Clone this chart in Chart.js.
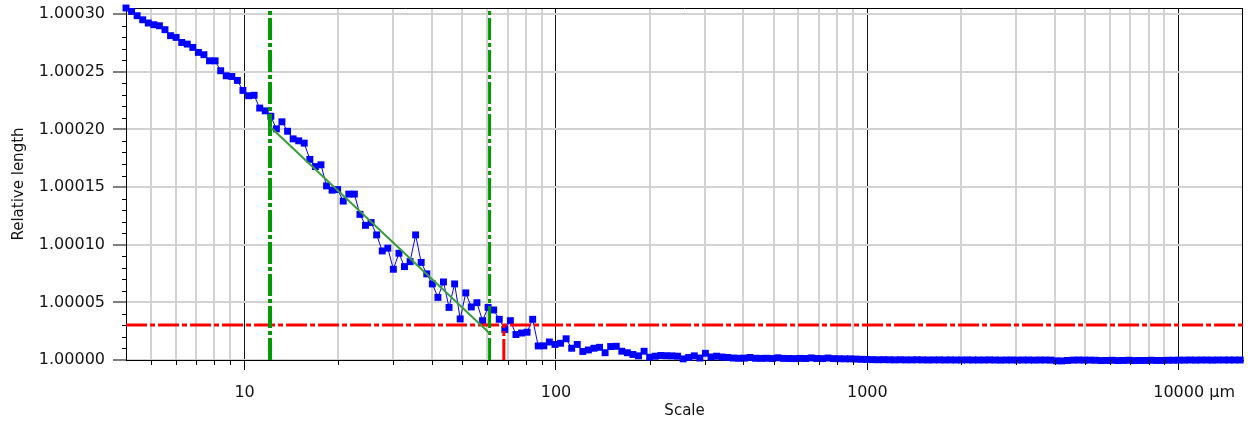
<!DOCTYPE html>
<html>
<head>
<meta charset="utf-8">
<script src="https://cdn.jsdelivr.net/npm/chart.js@4.4.1/dist/chart.umd.min.js"></script>
<style>
  html, body { margin: 0; padding: 0; background: #ffffff; }
  #wrap { width: 1248px; height: 422px; }
</style>
</head>
<body>
<div id="wrap"><canvas id="c" width="1248" height="422"></canvas></div>
<script>
// Measurement scale (µm) of each evaluated step
const scaleUm = [
  4.160, 4.335, 4.517, 4.707, 4.905, 5.111, 5.326, 5.550, 5.783, 6.026,
  6.280, 6.544, 6.819, 7.105, 7.404, 7.715, 8.040, 8.378, 8.730, 9.097,
  9.480, 9.878, 10.30, 10.73, 11.18, 11.65, 12.14, 12.65, 13.18, 13.74,
  14.32, 14.92, 15.54, 16.20, 16.88, 17.59, 18.33, 19.10, 19.90, 20.74,
  21.61, 22.52, 23.47, 24.45, 25.48, 26.55, 27.67, 28.83, 30.04, 31.31,
  32.62, 34.00, 35.42, 36.91, 38.47, 40.08, 41.77, 43.52, 45.35, 47.26,
  49.25, 51.32, 53.47, 55.72, 58.10, 60.54, 63.09, 65.74, 68.50, 71.38,
  74.39, 77.51, 80.77, 84.17, 87.71, 91.39, 95.23, 99.28, 103.45, 107.80,
  112.33, 117.05, 121.97, 127.10, 132.44, 138.01, 143.81, 149.86, 156.16, 162.72,
  169.56, 176.69, 184.12, 191.86, 199.93, 208.33, 217.09, 226.22, 235.73, 245.64,
  256.1, 266.9, 278.1, 289.8, 302.0, 314.7, 327.9, 341.7, 356.0, 371.0,
  386.6, 402.9, 419.8, 437.4, 455.8, 475.0, 495.0, 515.8, 537.5, 560.0,
  583.8, 608.3, 633.9, 660.6, 688.3, 717.3, 747.4, 778.8, 811.6, 845.7,
  881.3, 918.3, 956.9, 997.4, 1039.3, 1083.0, 1128.5, 1176.0, 1225.4, 1276.9,
  1330.6, 1386.5, 1444.8, 1505.5, 1568.8, 1634.8, 1703.5, 1775.1, 1849.7, 1927.5,
  2009, 2093.5, 2181.5, 2273.2, 2368.8, 2468.4, 2572.2, 2680.3, 2793.0, 2910.4,
  3032.8, 3160.3, 3293.2, 3431.6, 3575.9, 3727, 3883.7, 4046.9, 4217.0, 4394.3,
  4579.0, 4771.5, 4972.1, 5181.1, 5398.9, 5625.9, 5862.4, 6108.9, 6365.7, 6633.3,
  6915, 7205.7, 7508.6, 7824.3, 8153.2, 8496.0, 8853.2, 9225.4, 9613.2, 10017,
  10438, 10877, 11334, 11811, 12307, 12825, 13364, 13926, 14511, 15121,
  15757
];

// Relative length measured at each scale
const relLength = [
  1.0003053, 1.0003023, 1.0002986, 1.0002951, 1.0002923, 1.0002908, 1.0002899, 1.0002865, 1.0002813, 1.0002798,
  1.0002754, 1.0002740, 1.0002711, 1.0002668, 1.0002648, 1.0002595, 1.0002595, 1.0002509, 1.0002465, 1.0002459,
  1.0002425, 1.0002338, 1.0002292, 1.0002296, 1.0002185, 1.0002161, 1.0002114, 1.0002005, 1.0002066, 1.0001984,
  1.0001918, 1.0001901, 1.0001881, 1.0001740, 1.0001678, 1.0001693, 1.0001510, 1.0001473, 1.0001478, 1.0001378,
  1.0001439, 1.0001439, 1.0001263, 1.0001168, 1.0001192, 1.0001085, 1.0000946, 1.0000970, 1.0000787, 1.0000926,
  1.0000810, 1.0000853, 1.0001085, 1.0000846, 1.0000747, 1.0000660, 1.0000543, 1.0000677, 1.0000456, 1.0000660,
  1.0000356, 1.0000582, 1.0000460, 1.0000497, 1.0000341, 1.0000456, 1.0000434, 1.0000353, 1.0000265, 1.0000341,
  1.0000221, 1.0000234, 1.0000241, 1.0000353, 1.0000122, 1.0000123, 1.0000156, 1.0000135, 1.0000145, 1.0000184,
  1.0000102, 1.0000135, 1.0000074, 1.0000087, 1.0000102, 1.0000110, 1.0000063, 1.0000117, 1.0000119, 1.0000076,
  1.0000063, 1.0000048, 1.0000036, 1.0000076, 1.0000024, 1.0000033, 1.0000039, 1.0000037, 1.0000036, 1.0000033,
  1.0000010, 1.0000022, 1.0000036, 1.0000017, 1.0000058, 1.0000026, 1.0000033, 1.0000026, 1.0000022, 1.0000017,
  1.0000015, 1.0000016, 1.0000022, 1.0000015, 1.0000014, 1.0000015, 1.0000013, 1.0000019, 1.0000014, 1.0000013,
  1.0000012, 1.0000014, 1.0000013, 1.0000018, 1.0000013, 1.0000012, 1.0000017, 1.0000012, 1.0000011, 1.0000010,
  1.0000010, 1.0000008, 1.0000006, 1.0000005, 1.0000003, 1.0000002, 1.0000003, 1.0000002, 1.0000001, 1.0000002,
  1.0000001, 1.0000001, 1.0000002, 1.0000001, 1.0000000, 1.0000001, 1.0000001, 1.0000000, 1.0000001, 1.0000000,
  1.0000000, 1.0000001, 1.0000000, 1.0000000, 1.0000000, 1.0000001, 1.0000000, 0.9999999, 1.0000000, 1.0000000,
  0.9999999, 1.0000000, 1.0000000, 0.9999999, 1.0000000, 1.0000000, 0.9999999, 0.9999993, 0.9999992, 0.9999996,
  0.9999999, 1.0000000, 0.9999999, 0.9999999, 0.9999998, 0.9999995, 0.9999996, 0.9999998, 0.9999995, 0.9999996,
  0.9999998, 0.9999995, 0.9999996, 0.9999996, 0.9999998, 0.9999996, 0.9999996, 0.9999998, 0.9999998, 0.9999999,
  0.9999999, 1.0000000, 0.9999999, 1.0000000, 1.0000000, 0.9999999, 1.0000000, 1.0000000, 1.0000000, 1.0000000,
  1.0000000
];

// Axis ranges and ticks
const xMin = 4.16;
const xMax = 16100;
const yMin = 1.00000;
const yMax = 1.0003053;
const xTickValues = [5, 6, 7, 8, 9, 10, 20, 30, 40, 50, 60, 70, 80, 90, 100,
  200, 300, 400, 500, 600, 700, 800, 900, 1000,
  2000, 3000, 4000, 5000, 6000, 7000, 8000, 9000, 10000];
const xLabelValues = [10, 100, 1000, 10000];
const xUnit = 'µm';
const yTickValues = [1.00000, 1.00005, 1.00010, 1.00015, 1.00020, 1.00025, 1.00030];
const yMinorValues = [1.00001, 1.00002, 1.00003, 1.00004, 1.00006, 1.00007, 1.00008, 1.00009,
  1.00011, 1.00012, 1.00013, 1.00014, 1.00016, 1.00017, 1.00018, 1.00019,
  1.00021, 1.00022, 1.00023, 1.00024, 1.00026, 1.00027, 1.00028, 1.00029];

// Fractal fit range, regression line and threshold crossing
const fitRange = [12.07, 61.2];
const fitValues = [1.0002023, 1.0000232];
const thresholdLength = 1.0000304;
const thresholdScale = 68.0;

const FONT = 'DejaVu Sans';
const TEXT = '#141414';
const X_TICK_LEN = 10;
const X_LABEL_PAD = 13;
const LABEL_Y_OFFSET = X_TICK_LEN + X_LABEL_PAD + 9.6;
Chart.defaults.font.family = FONT;

const isLabelled = v => xLabelValues.includes(v);

const frameAndMinorTicks = {
  id: 'frameAndMinorTicks',
  beforeDatasetsDraw(chart) {
    const { ctx, chartArea } = chart;
    ctx.save();
    ctx.strokeStyle = '#000000';
    ctx.lineWidth = 1;
    ctx.beginPath();
    ctx.moveTo(chartArea.left, Math.round(chartArea.top) + 0.5);
    ctx.lineTo(chartArea.right, Math.round(chartArea.top) + 0.5);
    ctx.moveTo(Math.round(chartArea.right) - 0.5, chartArea.top);
    ctx.lineTo(Math.round(chartArea.right) - 0.5, chartArea.bottom);
    ctx.stroke();
    ctx.restore();
  },
  afterDraw(chart) {
    const { ctx, chartArea, scales: { x, y } } = chart;
    ctx.save();
    ctx.strokeStyle = '#000000';
    ctx.lineWidth = 1;
    ctx.beginPath();
    yMinorValues.forEach(v => {
      const py = Math.round(y.getPixelForValue(v)) + 0.5;
      ctx.moveTo(chartArea.left - 4, py);
      ctx.lineTo(chartArea.left, py);
    });
    xTickValues.filter(v => !isLabelled(v)).forEach(v => {
      const px = Math.round(x.getPixelForValue(v)) + 0.5;
      ctx.moveTo(px, chartArea.bottom);
      ctx.lineTo(px, chartArea.bottom + 5);
    });
    ctx.stroke();
    // unit written after the last scale label
    const last = xLabelValues[xLabelValues.length - 1];
    ctx.font = '16px "' + FONT + '"';
    ctx.fillStyle = TEXT;
    ctx.textAlign = 'left';
    ctx.textBaseline = 'middle';
    const px = x.getPixelForValue(last);
    const w = ctx.measureText(String(last)).width;
    const sp = ctx.measureText(' ').width;
    ctx.fillText(xUnit, px + w / 2 + sp, chartArea.bottom + LABEL_Y_OFFSET);
    ctx.restore();
  }
};

new Chart(document.getElementById('c'), {
  type: 'line',
  data: {
    datasets: [
      {
        label: 'fit',
        data: [{ x: fitRange[0], y: fitValues[0] }, { x: fitRange[1], y: fitValues[1] }],
        borderColor: '#3a9d3a', borderWidth: 2, pointRadius: 0
      },
      {
        label: 'range start',
        data: [{ x: fitRange[0], y: yMin }, { x: fitRange[0], y: yMax }],
        borderColor: '#009a00', borderWidth: 4, borderDash: [22, 3, 4, 3], pointRadius: 0
      },
      {
        label: 'range end',
        data: [{ x: fitRange[1], y: yMin }, { x: fitRange[1], y: yMax }],
        borderColor: '#009a00', borderWidth: 3, borderDash: [22, 3, 4, 3], pointRadius: 0
      },
      {
        label: 'threshold',
        data: [{ x: xMin, y: thresholdLength }, { x: xMax, y: thresholdLength }],
        borderColor: '#ff0000', borderWidth: 3, borderDash: [21, 3, 5, 3], pointRadius: 0
      },
      {
        label: 'threshold scale',
        data: [{ x: thresholdScale, y: yMin }, { x: thresholdScale, y: thresholdLength }],
        borderColor: '#ff0000', borderWidth: 3, borderDash: [21, 3, 5, 3], pointRadius: 0
      },
      {
        label: 'Relative length',
        data: scaleUm.map((s, i) => ({ x: s, y: relLength[i] })),
        borderColor: '#0000ff', borderWidth: 1,
        pointStyle: 'rect', pointRadius: 4.9, pointBorderWidth: 0,
        pointBackgroundColor: '#0000ff', clip: false
      }
    ]
  },
  options: {
    responsive: false,
    animation: false,
    devicePixelRatio: 1,
    layout: { padding: { top: 8, right: 1, left: 0, bottom: 0 } },
    plugins: { legend: { display: false }, tooltip: { enabled: false } },
    elements: { line: { tension: 0, fill: false } },
    scales: {
      x: {
        type: 'logarithmic',
        min: xMin, max: xMax, bounds: 'data',
        afterBuildTicks: s => { s.ticks = xTickValues.map(v => ({ value: v })); },
        afterFit: s => { s.height = 62; s.paddingLeft = 0; s.paddingRight = 0; },
        ticks: {
          autoSkip: false, maxRotation: 0, minRotation: 0, padding: X_LABEL_PAD, color: TEXT,
          font: { family: FONT, size: 16 },
          callback: v => (isLabelled(v) ? String(v) : '')
        },
        grid: {
          color: c => (isLabelled(c.tick.value) ? '#111111' : '#d2d2d2'),
          lineWidth: c => (isLabelled(c.tick.value) ? 1 : 2),
          tickColor: c => (isLabelled(c.tick.value) ? '#000000' : 'rgba(0,0,0,0)'),
          tickLength: X_TICK_LEN, tickWidth: 1
        },
        border: { color: '#000000', width: 1 },
        title: { display: true, text: 'Scale', color: TEXT, font: { family: FONT, size: 15 }, padding: { top: 0, bottom: 2 } }
      },
      y: {
        type: 'linear',
        min: yMin, max: yMax, bounds: 'data',
        afterBuildTicks: s => { s.ticks = yTickValues.map(v => ({ value: v })); },
        afterFit: s => { s.width = 126; s.paddingTop = 0; s.paddingBottom = 0; },
        ticks: {
          padding: 8, color: TEXT, font: { family: FONT, size: 16 },
          callback: v => v.toFixed(5)
        },
        grid: { color: '#d2d2d2', lineWidth: 2, tickColor: '#000000', tickLength: 13, tickWidth: 1 },
        border: { color: '#000000', width: 1 },
        title: { display: true, text: 'Relative length', color: TEXT, font: { family: FONT, size: 15 }, padding: { top: 10, bottom: 0 } }
      }
    }
  },
  plugins: [frameAndMinorTicks]
});
</script>
</body>
</html>
